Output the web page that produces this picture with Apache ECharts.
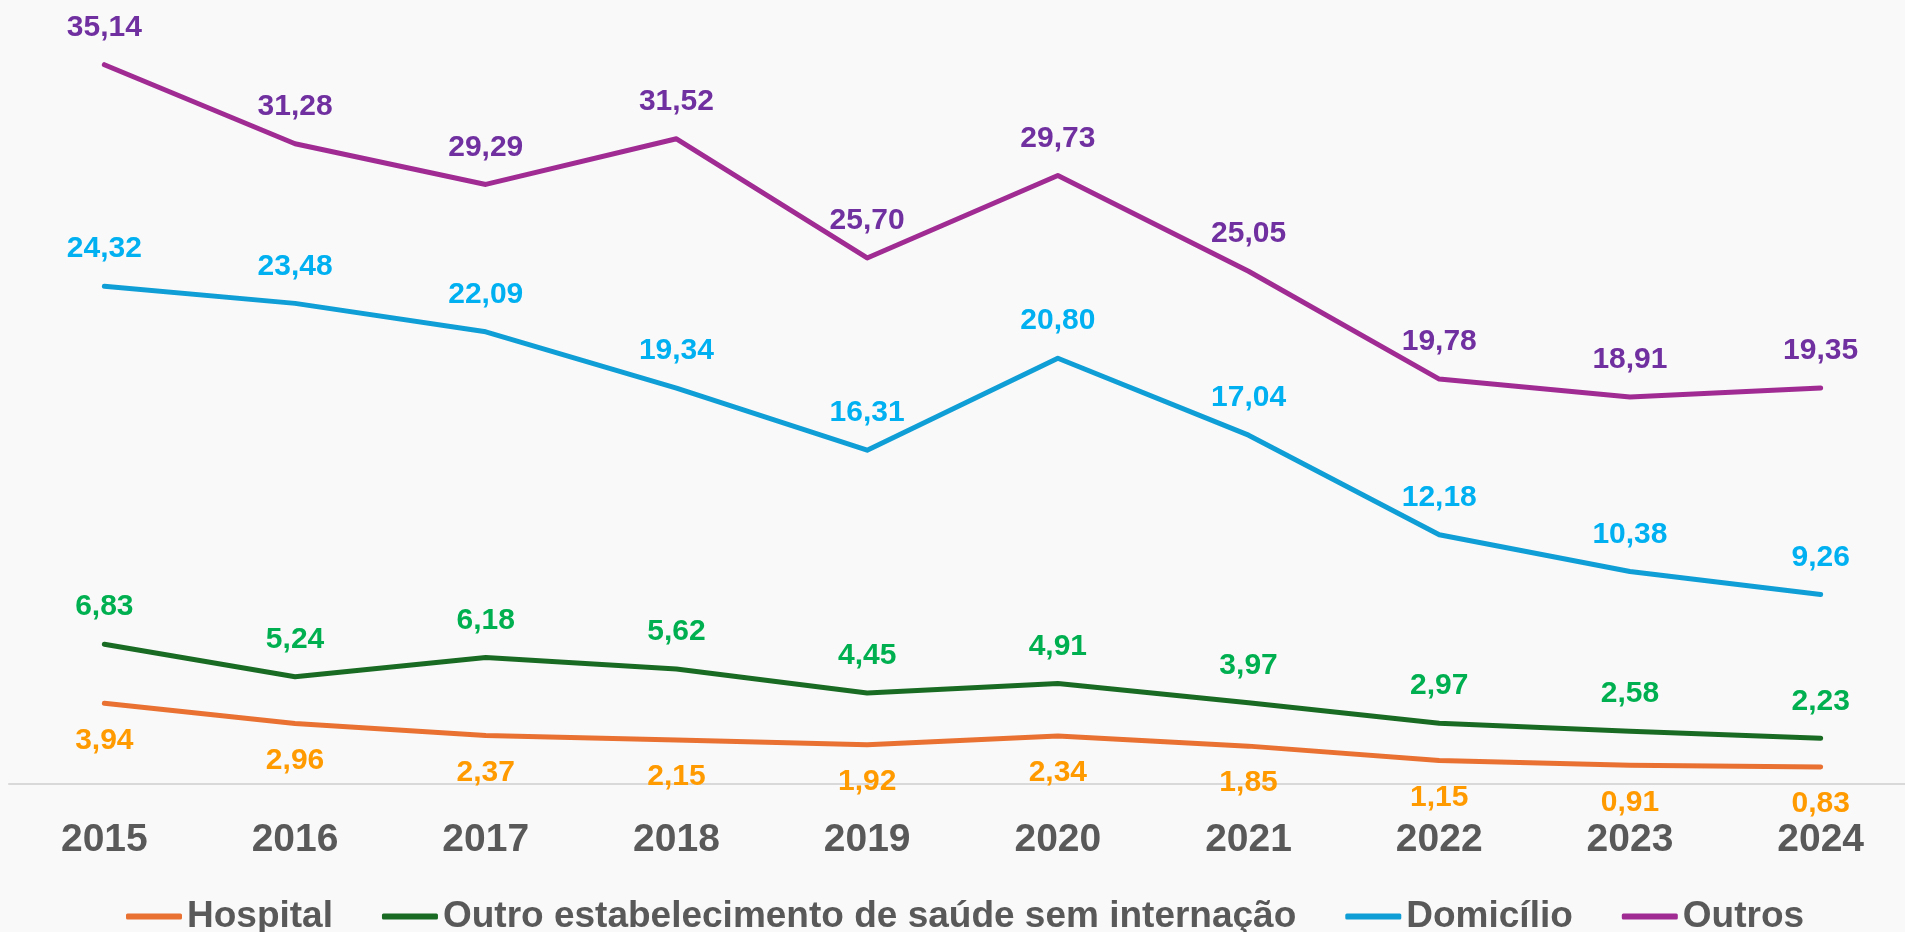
<!DOCTYPE html>
<html>
<head>
<meta charset="utf-8">
<script src="https://cdn.jsdelivr.net/npm/echarts@6/dist/echarts.min.js"></script>
<style>
html,body{margin:0;padding:0;background:#F9F9F9;}
#c{width:1905px;height:932px;}
</style>
</head>
<body>
<div id="c"></div>
<script>
const categories = ['2015','2016','2017','2018','2019','2020','2021','2022','2023','2024'];
const hospital = [3.94, 2.96, 2.37, 2.15, 1.92, 2.34, 1.85, 1.15, 0.91, 0.83];
const outroEstab = [6.83, 5.24, 6.18, 5.62, 4.45, 4.91, 3.97, 2.97, 2.58, 2.23];
const domicilio = [24.32, 23.48, 22.09, 19.34, 16.31, 20.80, 17.04, 12.18, 10.38, 9.26];
const outros = [35.14, 31.28, 29.29, 31.52, 25.70, 29.73, 25.05, 19.78, 18.91, 19.35];

const FONT = "'Liberation Sans', Arial, sans-serif";
const fmt = p => p.value.toFixed(2).replace('.', ',');

function mk(name, data, lineColor, labelColor, pos) {
  return {
    name: name, type: 'line', data: data,
    showSymbol: true, symbol: 'circle', symbolSize: 0,
    lineStyle: { color: lineColor, width: 5, cap: 'round', join: 'round' },
    itemStyle: { color: lineColor },
    label: {
      show: true, position: pos, distance: 22, formatter: fmt,
      color: labelColor, fontFamily: FONT, fontWeight: 'bold', fontSize: 30
    },
    emphasis: { disabled: true },
    animation: false
  };
}

const chart = echarts.init(document.getElementById('c'));
chart.setOption({
  backgroundColor: '#F9F9F9',
  animation: false,
  grid: { left: 9, right: -11, top: 0, height: 784, outerBoundsMode: 'none', containLabel: false },
  xAxis: {
    type: 'category', data: categories, boundaryGap: true,
    axisLine: { show: true, lineStyle: { color: '#D9D9D9', width: 2 } },
    axisTick: { show: false },
    axisLabel: { margin: 37, color: '#595959', fontFamily: FONT, fontWeight: 'bold', fontSize: 39 }
  },
  yAxis: {
    type: 'value', min: 0, max: 38.3, show: false,
    splitLine: { show: false }
  },
  legend: {
    top: 893, left: 121,
    icon: 'roundRect', itemWidth: 56, itemHeight: 6, itemGap: 49,
    textStyle: { color: '#595959', fontFamily: FONT, fontWeight: 'bold', fontSize: 37 },
    data: ['Hospital', 'Outro estabelecimento de saúde sem internação', 'Domicílio', 'Outros']
  },
  series: [
    mk('Hospital', hospital, '#E97132', '#FF9A00', 'bottom'),
    mk('Outro estabelecimento de saúde sem internação', outroEstab, '#196B24', '#00B050', 'top'),
    mk('Domicílio', domicilio, '#0F9ED5', '#00B0F0', 'top'),
    mk('Outros', outros, '#A02B93', '#7030A0', 'top')
  ]
});
</script>
</body>
</html>
